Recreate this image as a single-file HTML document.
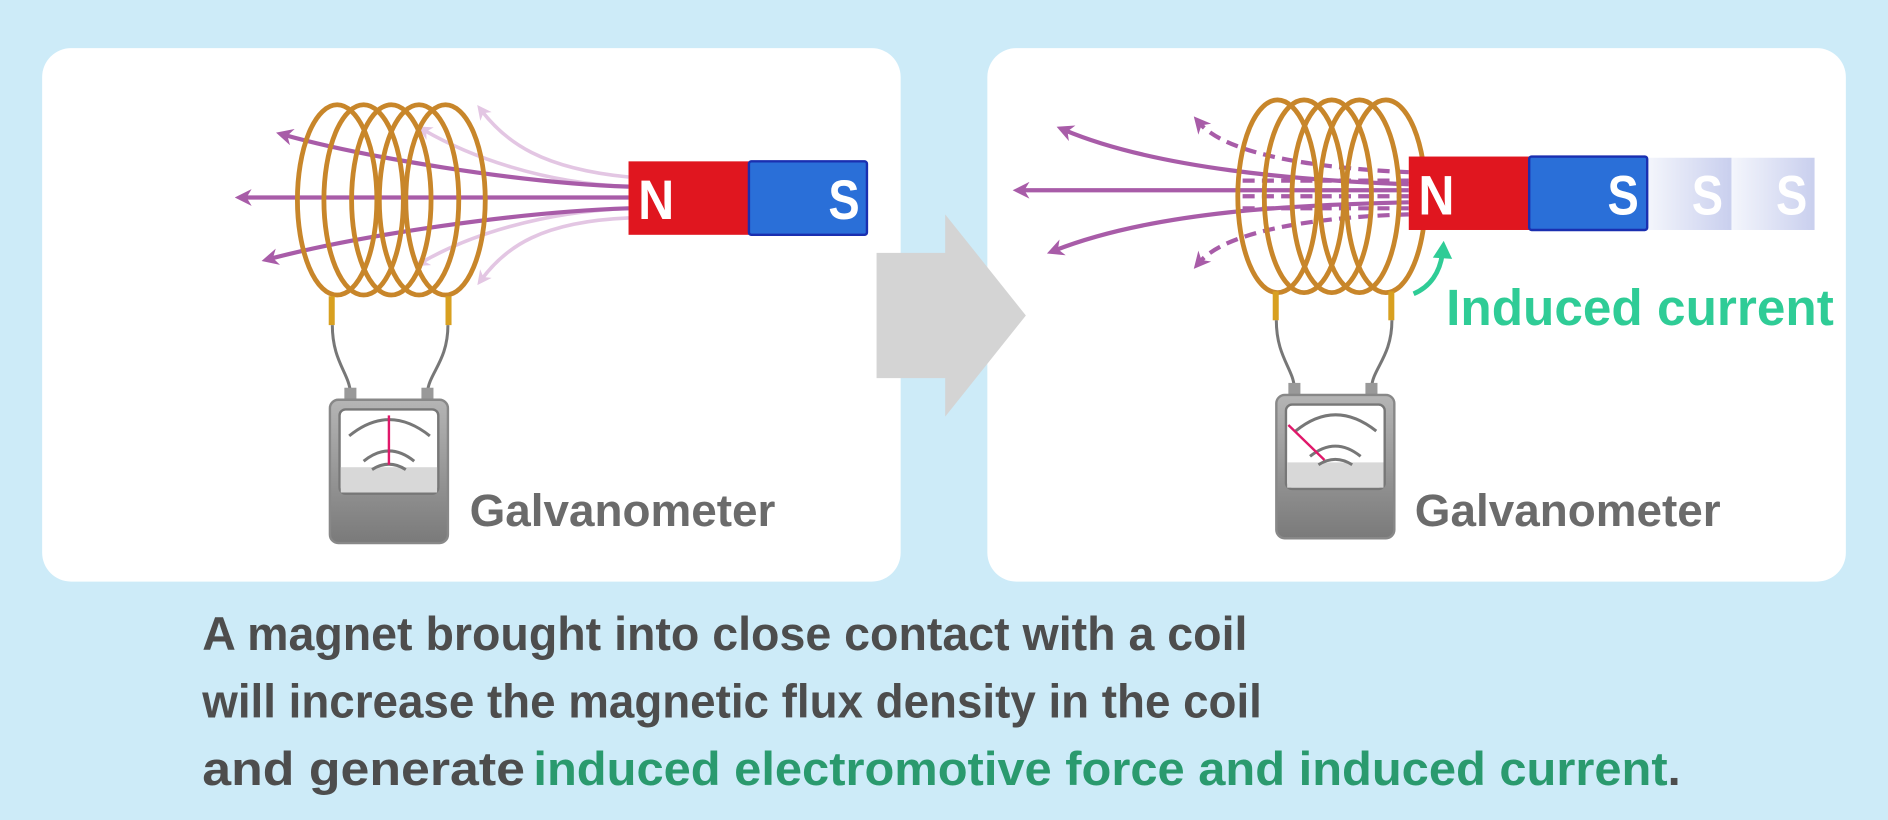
<!DOCTYPE html>
<html><head><meta charset="utf-8"><style>
html,body{margin:0;padding:0;background:#cdebf8;}
svg{display:block;}
text{font-family:"Liberation Sans",sans-serif;font-weight:bold;}
</style></head><body>
<svg width="1888" height="820" viewBox="0 0 1568 681" xmlns="http://www.w3.org/2000/svg">
<defs>
<marker id="ad" viewBox="0 0 10 10" refX="5" refY="5" markerWidth="4" markerHeight="4" orient="auto-start-reverse"><path d="M0,0 L10,5 L0,10 L3,5 z" fill="#a85ca8"/></marker>
<marker id="al" viewBox="0 0 10 10" refX="5" refY="5" markerWidth="4" markerHeight="4" orient="auto-start-reverse"><path d="M0,0 L10,5 L0,10 L3,5 z" fill="#e3c6e3"/></marker>
<linearGradient id="mg" x1="0" y1="0" x2="0" y2="1"><stop offset="0" stop-color="#b5b5b5"/><stop offset="1" stop-color="#7a7a7a"/></linearGradient>
<linearGradient id="gs" x1="0" y1="0" x2="1" y2="0"><stop offset="0" stop-color="#f4f6fc"/><stop offset="1" stop-color="#c9cfee"/></linearGradient>
</defs>
<rect width="1568" height="681" fill="#cdebf8"/>
<rect x="35" y="40" width="713" height="443" rx="24" fill="#fff"/>
<rect x="820" y="40" width="713" height="443" rx="24" fill="#fff"/>
<path d="M728,210 L785,210 L785,178 L852,262 L785,346 L785,314 L728,314 z" fill="#d4d4d4"/>

<!-- LEFT -->
<g fill="none" stroke-width="3">
<path d="M522,147 C450,140 420,118 400,92" stroke="#e3c6e3" marker-end="url(#al)"/>
<path d="M522,155 C450,152 390,130 352,108" stroke="#e3c6e3" marker-end="url(#al)"/>
<path d="M522,181 C450,184 420,205 400,232" stroke="#e3c6e3" marker-end="url(#al)"/>
<path d="M522,173 C450,176 390,195 350,218" stroke="#e3c6e3" marker-end="url(#al)"/>
<path d="M522,155 C430,152 300,130 236,112" stroke="#a85ca8" stroke-width="3.5" marker-end="url(#ad)"/>
<path d="M522,164 L202,164" stroke="#a85ca8" stroke-width="3.5" marker-end="url(#ad)"/>
<path d="M522,173 C430,176 300,195 224,215" stroke="#a85ca8" stroke-width="3.5" marker-end="url(#ad)"/>
</g>
<g fill="none" stroke="#c8862a" stroke-width="4">
<ellipse cx="280" cy="166" rx="33" ry="79"/><ellipse cx="302" cy="166" rx="33" ry="79"/><ellipse cx="325" cy="166" rx="33" ry="79"/><ellipse cx="348" cy="166" rx="33" ry="79"/><ellipse cx="370" cy="166" rx="33" ry="79"/>
</g>
<rect x="273" y="246" width="5" height="24" fill="#d8a020"/><rect x="370" y="246" width="5" height="24" fill="#d8a020"/>
<path d="M276,270 C276,300 290,310 291,326 M372,270 C372,300 356,310 355,326" fill="none" stroke="#777" stroke-width="2.5"/>
<rect x="522" y="134" width="100" height="61" fill="#e0161f"/><rect x="622" y="134" width="98" height="61" rx="2" fill="#2a6fd8" stroke="#1a2fb0" stroke-width="2"/>
<text x="530" y="182" font-size="46" fill="#fff" textLength="30" lengthAdjust="spacingAndGlyphs">N</text><text x="688" y="182" font-size="46" fill="#fff" textLength="26" lengthAdjust="spacingAndGlyphs">S</text>
<g>
<rect x="286" y="322" width="10" height="10" fill="#999"/><rect x="350" y="322" width="10" height="10" fill="#999"/>
<rect x="274" y="332" width="98" height="119" rx="7" fill="url(#mg)" stroke="#888" stroke-width="2"/>
<rect x="282" y="340" width="82" height="70" rx="5" fill="#fff" stroke="#777" stroke-width="2"/>
<rect x="283" y="388" width="80" height="21" fill="#d8d8d8"/>
<path d="M290,362 Q323,335 357,362 M302,383 Q323,366 344,383 M309,390 Q323,381 337,390" fill="none" stroke="#777" stroke-width="2.5"/>
<line x1="323" y1="345" x2="323" y2="386" stroke="#e0186a" stroke-width="2"/>
</g>
<text x="390" y="437" font-size="38" fill="#6b6b6b" textLength="254" lengthAdjust="spacingAndGlyphs">Galvanometer</text>

<!-- RIGHT -->
<g fill="none" stroke="#a85ca8" stroke-width="3.5">
<path d="M1170,143 C1100,140 1020,130 996,102" stroke-dasharray="10 6" marker-end="url(#ad)"/>
<path d="M1170,153 C1080,150 960,140 884,108" marker-end="url(#ad)"/>
<path d="M1170,158 L848,158" marker-end="url(#ad)"/>
<path d="M1170,168 C1080,170 960,175 876,208" marker-end="url(#ad)"/>
<path d="M1170,178 C1100,180 1020,190 996,218" stroke-dasharray="10 6" marker-end="url(#ad)"/>
<path d="M1170,150 L1030,150 M1170,163 L1030,163 M1170,173 L1030,173" stroke-dasharray="10 6"/>
</g>
<g fill="none" stroke="#c8862a" stroke-width="4">
<ellipse cx="1061" cy="163" rx="33" ry="80"/><ellipse cx="1083" cy="163" rx="33" ry="80"/><ellipse cx="1106" cy="163" rx="33" ry="80"/><ellipse cx="1129" cy="163" rx="33" ry="80"/><ellipse cx="1151" cy="163" rx="33" ry="80"/>
</g>
<rect x="1057" y="242" width="5" height="24" fill="#d8a020"/><rect x="1153" y="242" width="5" height="24" fill="#d8a020"/>
<path d="M1060,266 C1060,296 1074,306 1075,322 M1156,266 C1156,296 1140,306 1139,322" fill="none" stroke="#777" stroke-width="2.5"/>
<rect x="1368" y="131" width="70" height="60" fill="url(#gs)"/><rect x="1438" y="131" width="69" height="60" fill="url(#gs)"/>
<text x="1405" y="178" font-size="46" fill="#fff" textLength="26" lengthAdjust="spacingAndGlyphs">S</text><text x="1475" y="178" font-size="46" fill="#fff" textLength="26" lengthAdjust="spacingAndGlyphs">S</text>
<rect x="1170" y="130" width="100" height="61" fill="#e0161f"/><rect x="1270" y="130" width="98" height="61" rx="2" fill="#2a6fd8" stroke="#1a2fb0" stroke-width="2"/>
<text x="1178" y="178" font-size="46" fill="#fff" textLength="30" lengthAdjust="spacingAndGlyphs">N</text><text x="1335" y="178" font-size="46" fill="#fff" textLength="26" lengthAdjust="spacingAndGlyphs">S</text>
<path d="M1174,244 C1188,238 1196,226 1198,210" fill="none" stroke="#2fcc96" stroke-width="4"/>
<path d="M1190,214 L1199,200 L1206,215 z" fill="#2fcc96"/>
<text x="1201" y="270" font-size="42" fill="#2fcc96" textLength="322" lengthAdjust="spacingAndGlyphs">Induced current</text>
<g>
<rect x="1070" y="318" width="10" height="10" fill="#999"/><rect x="1134" y="318" width="10" height="10" fill="#999"/>
<rect x="1060" y="328" width="98" height="119" rx="7" fill="url(#mg)" stroke="#888" stroke-width="2"/>
<rect x="1068" y="336" width="82" height="70" rx="5" fill="#fff" stroke="#777" stroke-width="2"/>
<rect x="1069" y="384" width="80" height="21" fill="#d8d8d8"/>
<path d="M1076,358 Q1109,331 1143,358 M1088,379 Q1109,362 1130,379 M1095,386 Q1109,377 1123,386" fill="none" stroke="#777" stroke-width="2.5"/>
<line x1="1070" y1="353" x2="1100" y2="382" stroke="#e0186a" stroke-width="2"/>
</g>
<text x="1175" y="437" font-size="38" fill="#6b6b6b" textLength="254" lengthAdjust="spacingAndGlyphs">Galvanometer</text>

<!-- caption -->
<text x="168" y="540" font-size="39" fill="#4d4d4d" textLength="868" lengthAdjust="spacingAndGlyphs">A magnet brought into close contact with a coil</text>
<text x="168" y="596" font-size="39" fill="#4d4d4d" textLength="880" lengthAdjust="spacingAndGlyphs">will increase the magnetic flux density in the coil</text>
<text x="168" y="652" font-size="39" fill="#4d4d4d" textLength="268" lengthAdjust="spacingAndGlyphs">and generate</text>
<text x="443" y="652" font-size="39" fill="#2a9a6e" textLength="942" lengthAdjust="spacingAndGlyphs">induced electromotive force and induced current</text>
<text x="1385" y="652" font-size="39" fill="#4d4d4d">.</text>
</svg>
</body></html>
